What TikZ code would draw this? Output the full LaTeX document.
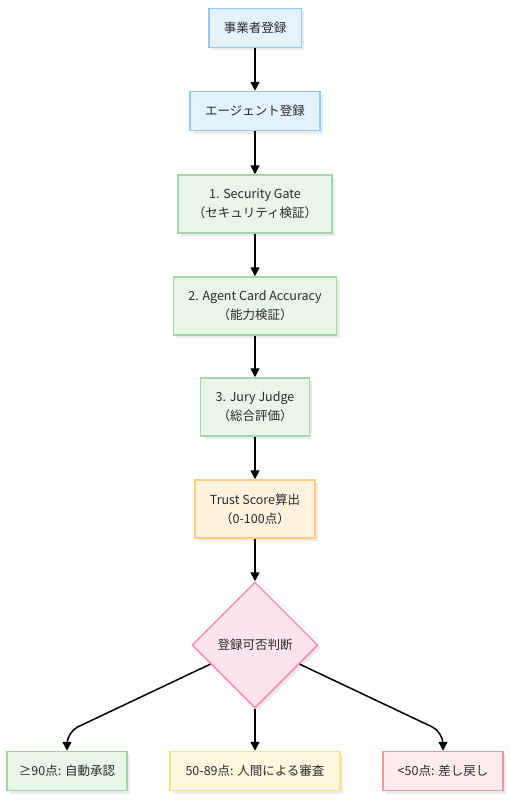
\documentclass[tikz,border=0pt]{standalone}
\usepackage{fontspec}
\setmainfont{Noto Sans CJK JP}
\usetikzlibrary{positioning, shapes.geometric, arrows.meta, calc, shadows}

\definecolor{blueFill}{HTML}{E3F2FD}
\definecolor{blueLine}{HTML}{90CAF9}
\definecolor{greenFill}{HTML}{E8F5E9}
\definecolor{greenLine}{HTML}{A5D6A7}
\definecolor{orangeFill}{HTML}{FFF3E0}
\definecolor{orangeLine}{HTML}{FFCC80}
\definecolor{pinkFill}{HTML}{FCE4EC}
\definecolor{pinkLine}{HTML}{F48FB1}
\definecolor{yellowFill}{HTML}{FFF8E1}
\definecolor{yellowLine}{HTML}{FFE082}
\definecolor{redFill}{HTML}{FFEBEE}
\definecolor{redLine}{HTML}{EF9A9A}
\definecolor{textGray}{HTML}{2B2B2B}

\tikzset{
	box/.style={rectangle, line width=1.5pt, align=center, text=textGray,
		inner xsep=15pt, minimum height=39pt,
		font=\fontsize{12.5}{19}\selectfont,
		drop shadow={shadow xshift=3pt, shadow yshift=-3pt, fill=black, opacity=.08}},
	tall/.style={minimum height=58pt},
	result/.style={box, inner xsep=8pt},
	flow/.style={line width=1.5pt, -{Triangle[length=9pt, width=9pt]}},
}

\begin{document}
\begin{tikzpicture}[x=1pt, y=-1pt]

	\useasboundingbox (0, 0) rectangle (510, 800);

	% registration
	\node[box, fill=blueFill, draw=blueLine] (owner) at (255, 28) {事業者登録};
	\node[box, fill=blueFill, draw=blueLine] (agent) at (255, 111) {エージェント登録};

	% three checks
	\node[box, tall, fill=greenFill, draw=greenLine] (gate) at (255, 204)
		{1. Security Gate\\（セキュリティ検証）};
	\node[box, tall, fill=greenFill, draw=greenLine] (card) at (255, 306)
		{2. Agent Card Accuracy\\（能力検証）};
	\node[box, tall, fill=greenFill, draw=greenLine] (jury) at (255, 407)
		{3. Jury Judge\\（総合評価）};

	% score
	\node[box, tall, fill=orangeFill, draw=orangeLine] (score) at (255, 509)
		{Trust Score算出\\（0-100点）};

	% decision
	\node[box, diamond, aspect=1, inner sep=0pt, minimum width=126pt, minimum height=126pt,
		fill=pinkFill, draw=pinkLine] (decide) at (255, 645) {登録可否判断};

	% outcomes
	\node[result, fill=greenFill, draw=greenLine, minimum width=120pt] (auto) at (67, 771)
		{≥90点: 自動承認};
	\node[result, fill=yellowFill, draw=yellowLine, minimum width=170pt] (human) at (255, 771)
		{50-89点: 人間による審査};
	\node[result, fill=redFill, draw=redLine, minimum width=120pt] (back) at (443, 771)
		{<50点: 差し戻し};

	% arrows
	\draw[flow] (owner) -- (agent);
	\draw[flow] (agent) -- (gate);
	\draw[flow] (gate) -- (card);
	\draw[flow] (card) -- (jury);
	\draw[flow] (jury) -- (score);
	\draw[flow] (score) -- (decide);

	\draw[flow, rounded corners=12pt] ($(decide.west)!.3!(decide.south)$) -- (auto.north |- 0, 732) -- (auto.north);
	\draw[flow] (decide.south) -- (human.north);
	\draw[flow, rounded corners=12pt] ($(decide.east)!.3!(decide.south)$) -- (back.north |- 0, 732) -- (back.north);
\end{tikzpicture}
\end{document}
